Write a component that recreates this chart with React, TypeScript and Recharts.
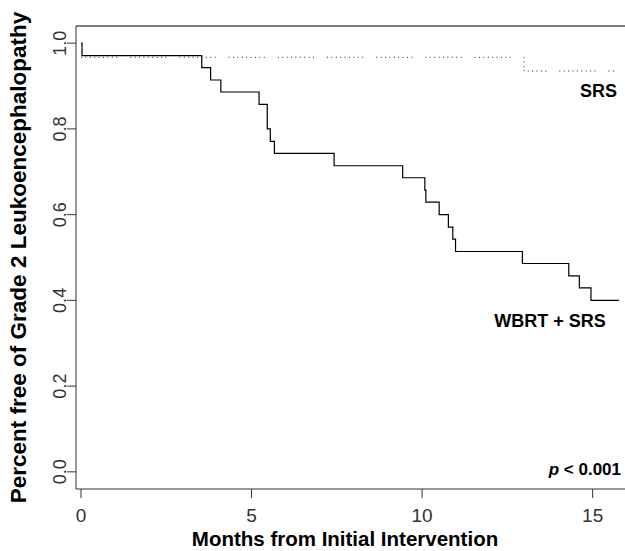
import React from 'react';
import { LineChart, Line, XAxis, YAxis, ReferenceLine } from 'recharts';

const wbrtMonths = [0, 0.03, 3.54, 3.8, 4.1, 5.22, 5.46, 5.55, 5.67, 7.42, 9.43, 10.08, 10.11, 10.5, 10.77, 10.9, 10.98, 12.94, 14.3, 14.61, 14.95, 15.77];
const wbrtSurvival = [1.0, 0.971, 0.943, 0.914, 0.886, 0.857, 0.8, 0.771, 0.743, 0.714, 0.686, 0.657, 0.629, 0.6, 0.571, 0.543, 0.514, 0.486, 0.457, 0.429, 0.4, 0.4];

const srsMonths = [0, 12.99, 15.71];
const srsSurvival = [0.967, 0.935, 0.935];

const xTicks = [0, 5, 10, 15];
const yTicks = [0, 0.2, 0.4, 0.6, 0.8, 1.0];

const seriesLabels = { srs: 'SRS', wbrt: 'WBRT + SRS' };
const xTitle = 'Months from Initial Intervention';
const yTitle = 'Percent free of Grade 2 Leukoencephalopathy';

const wbrtData = wbrtMonths.map((m, i) => ({ x: m, y: wbrtSurvival[i] }));
const srsData = srsMonths.map((m, i) => ({ x: m, y: srsSurvival[i] }));

const FONT = '"Liberation Sans", Arial, Helvetica, sans-serif';

const XTick = (props: any) => {
  const { x, payload } = props;
  return (
    <text x={x} y={522} textAnchor="middle" fontFamily={FONT} fontSize={19} fill="#333">
      {String(payload.value)}
    </text>
  );
};

const YTick = (props: any) => {
  const { y, payload } = props;
  const cx = 59.5;
  return (
    <text
      x={cx}
      y={y}
      dy="0.36em"
      transform={`rotate(-90, ${cx}, ${y})`}
      textAnchor="middle"
      fontFamily={FONT}
      fontSize={18}
      fill="#333"
    >
      {Number(payload.value).toFixed(1)}
    </text>
  );
};

const srsDash = Array(8).fill('1 3.4').join(' ') + ' 1 13';

export default function App() {
  return (
    <div style={{ position: 'absolute', left: 0, top: 0, width: 625, height: 551, background: '#fff' }}>
      <LineChart width={625} height={551} margin={{ top: 26, right: 0, bottom: 0, left: 0 }}>
        <XAxis
          dataKey="x"
          type="number"
          domain={[-0.1466, 15.948]}
          allowDataOverflow
          ticks={xTicks}
          tickSize={9}
          height={62}
          stroke="#333"
          tick={<XTick />}
          interval={0}
        />
        <YAxis
          dataKey="y"
          type="number"
          domain={[-0.04, 1.04]}
          allowDataOverflow
          ticks={yTicks}
          tickSize={9}
          width={76}
          stroke="#333"
          tick={<YTick />}
          interval={0}
        />
        <ReferenceLine y={1.04} stroke="#000" strokeWidth={1.2} ifOverflow="extendDomain" />
        <Line
          data={srsData}
          dataKey="y"
          type="stepAfter"
          stroke="#222"
          strokeWidth={1}
          strokeDasharray={srsDash}
          dot={false}
          activeDot={false}
          isAnimationActive={false}
        />
        <Line
          data={wbrtData}
          dataKey="y"
          type="stepAfter"
          stroke="#000"
          strokeWidth={1.2}
          dot={false}
          activeDot={false}
          isAnimationActive={false}
        />
      </LineChart>
      <svg
        width={625}
        height={551}
        style={{ position: 'absolute', left: 0, top: 0, pointerEvents: 'none' }}
        fontFamily={FONT}
      >
        <text x={617} y={97} textAnchor="end" fontSize={18} fontWeight="bold" fill="#000">
          {seriesLabels.srs}
        </text>
        <text x={550} y={327} textAnchor="middle" fontSize={18} fontWeight="bold" fill="#000">
          {seriesLabels.wbrt}
        </text>
        <text x={621} y={475} textAnchor="end" fontSize={17} fontWeight="bold" fill="#000">
          <tspan fontStyle="italic">p</tspan>
          <tspan>{' < 0.001'}</tspan>
        </text>
        <text x={345} y={546} textAnchor="middle" fontSize={20.5} fontWeight="bold" fill="#000">
          {xTitle}
        </text>
        <text
          x={26}
          y={257.5}
          transform="rotate(-90, 26, 257.5)"
          textAnchor="middle"
          fontSize={22.5}
          fontWeight="bold"
          fill="#000"
        >
          {yTitle}
        </text>
      </svg>
    </div>
  );
}
